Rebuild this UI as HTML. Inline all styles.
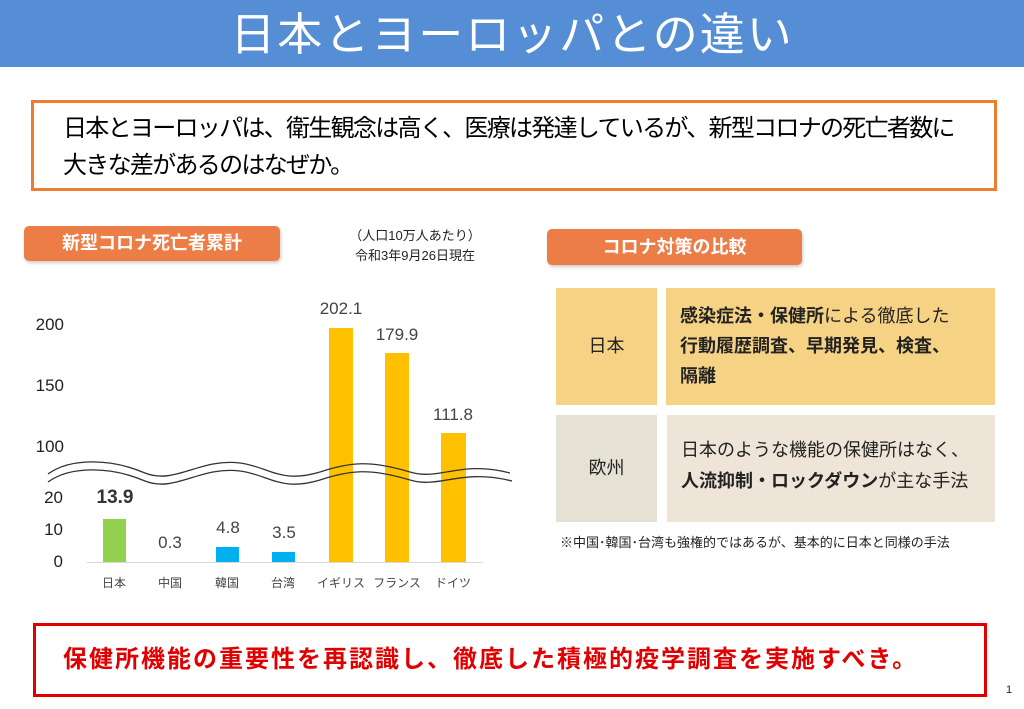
<!DOCTYPE html>
<html><head><meta charset="utf-8"><style>
body{margin:0;width:1024px;height:709px;background:#fff;position:relative;overflow:hidden;font-family:"Liberation Sans","Noto Sans CJK JP",sans-serif;}
.a{position:absolute;}
.hd{left:0;top:0;width:1024px;height:67px;background:#558ED5;color:#fff;font-size:45px;text-align:center;line-height:70px;letter-spacing:2px}
.q{left:31px;top:100px;border:3px solid #ED7D31;font-size:24px;line-height:37px;padding:7px 0 0 29px;box-sizing:border-box;width:966px;height:91px;letter-spacing:-1.7px;white-space:nowrap}
.pill{background:#ED7D47;color:#fff;font-weight:bold;font-size:18px;text-align:center;border-radius:5px;box-shadow:1px 2px 3px #ccc}
.yl{font-size:17px;color:#222;text-align:right;width:40px;left:24px}
.bar{position:absolute}
.v{font-size:17px;color:#444;text-align:center;width:70px}
.x{font-size:12px;color:#444;text-align:center;width:70px;top:574px}
.c{font-size:18px;color:#222;white-space:nowrap}
</style></head><body>
<div class="a hd">日本とヨーロッパとの違い</div>
<div class="a q">日本とヨーロッパは、衛生観念は高く、医療は発達しているが、新型コロナの死亡者数に<br>大きな差があるのはなぜか。</div>
<div class="a pill" style="left:24px;top:226px;width:256px;height:35px;line-height:35px">新型コロナ死亡者累計</div>
<div class="a" style="left:320px;top:226px;width:190px;text-align:center;font-size:13px;line-height:20px;color:#222">（人口10万人あたり）<br>令和3年9月26日現在</div>
<div class="a pill" style="left:547px;top:229px;width:255px;height:36px;line-height:36px">コロナ対策の比較</div>

<div class="a yl" style="top:315px">200</div>
<div class="a yl" style="top:376px">150</div>
<div class="a yl" style="top:437px">100</div>
<div class="a yl" style="top:488px;width:39px">20</div>
<div class="a yl" style="top:520px;width:39px">10</div>
<div class="a yl" style="top:552px;width:39px">0</div>
<div class="a" style="left:87px;top:562px;width:396px;height:1px;background:#d9d9d9"></div>
<div class="bar" style="left:103px;top:519px;width:23px;height:43px;background:#92D050"></div>
<div class="bar" style="left:216px;top:547px;width:23px;height:15px;background:#00B0F0"></div>
<div class="bar" style="left:272px;top:552px;width:23px;height:10px;background:#00B0F0"></div>
<div class="bar" style="left:329px;top:328px;width:24px;height:234px;background:#FFC000"></div>
<div class="bar" style="left:385px;top:353px;width:24px;height:209px;background:#FFC000"></div>
<div class="bar" style="left:441px;top:433px;width:25px;height:129px;background:#FFC000"></div>
<svg class="a" style="left:0;top:0" width="1024" height="709">
<path d="M48,474 C70,458 110,458 145,473 C175,485 200,458 240,463 C270,467 280,484 320,472 C350,462 370,460 410,472 C440,481 460,460 510,473" fill="none" stroke="#333" stroke-width="1.3"/>
<path d="M48,482 C70,466 110,466 145,481 C175,493 200,466 240,471 C270,475 280,492 320,480 C350,470 370,468 410,480 C440,489 460,468 512,481" fill="none" stroke="#333" stroke-width="1.3"/>
</svg>
<div class="a v" style="left:80px;top:487px;font-weight:bold;font-size:19px;color:#333">13.9</div>
<div class="a v" style="left:135px;top:533px">0.3</div>
<div class="a v" style="left:193px;top:518px">4.8</div>
<div class="a v" style="left:249px;top:523px">3.5</div>
<div class="a v" style="left:306px;top:299px">202.1</div>
<div class="a v" style="left:362px;top:325px">179.9</div>
<div class="a v" style="left:418px;top:405px">111.8</div>
<div class="a x" style="left:79px">日本</div>
<div class="a x" style="left:135px">中国</div>
<div class="a x" style="left:192px">韓国</div>
<div class="a x" style="left:248px">台湾</div>
<div class="a x" style="left:306px">イギリス</div>
<div class="a x" style="left:362px">フランス</div>
<div class="a x" style="left:418px">ドイツ</div>

<div class="a c" style="left:556px;top:288px;width:101px;height:117px;background:#F6D384;line-height:117px;text-align:center">日本</div>
<div class="a c" style="left:666px;top:288px;width:329px;height:117px;background:#F6D384;line-height:30px;padding:13px 0 0 14px;box-sizing:border-box"><b>感染症法・保健所</b>による徹底した<br><b>行動履歴調査、早期発見、検査、<br>隔離</b></div>
<div class="a c" style="left:556px;top:415px;width:101px;height:107px;background:#E5E1D5;line-height:107px;text-align:center">欧州</div>
<div class="a c" style="left:667px;top:415px;width:328px;height:107px;background:#EEE5D8;line-height:31px;padding:20px 0 0 14px;box-sizing:border-box">日本のような機能の保健所はなく、<br><b>人流抑制・ロックダウン</b>が主な手法</div>
<div class="a" style="left:560px;top:532px;font-size:13px;color:#222;white-space:nowrap">※中国･韓国･台湾も強権的ではあるが、基本的に日本と同様の手法</div>

<div class="a" style="left:33px;top:623px;width:954px;height:74px;border:3px solid #E00000;box-sizing:border-box;color:#E00000;font-weight:bold;font-size:24px;line-height:68px;padding-left:27px;letter-spacing:2px;white-space:nowrap">保健所機能の重要性を再認識し、徹底した積極的疫学調査を実施すべき。</div>
<div class="a" style="left:1006px;top:684px;font-size:11px;color:#222">1</div>
</body></html>
